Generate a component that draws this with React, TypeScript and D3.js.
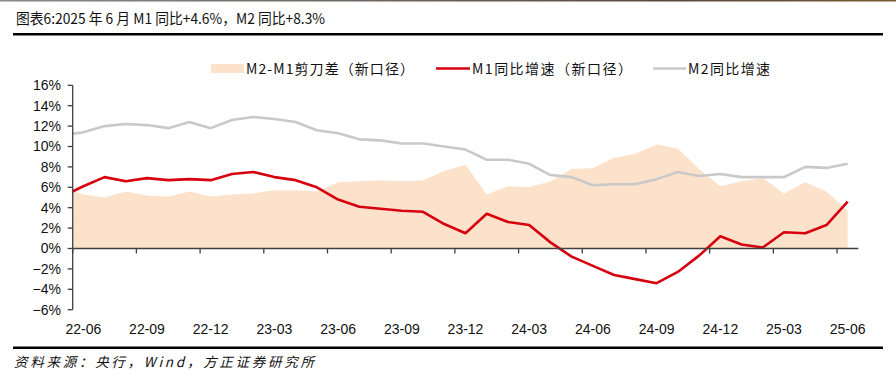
import React from "react";
import * as d3 from "d3";

// months from 22-05 (one before the axis start, clipped) to 25-06
const months: string[] = [
  "22-05","22-06","22-07","22-08","22-09","22-10","22-11","22-12",
  "23-01","23-02","23-03","23-04","23-05","23-06","23-07","23-08","23-09","23-10","23-11","23-12",
  "24-01","24-02","24-03","24-04","24-05","24-06","24-07","24-08","24-09","24-10","24-11","24-12",
  "25-01","25-02","25-03","25-04","25-05","25-06",
];

const m1: number[] = [
  5.1, 6.1, 7.0, 6.6, 6.9, 6.7, 6.8, 6.7,
  7.3, 7.5, 7.0, 6.7, 6.0, 4.8, 4.1, 3.9, 3.7, 3.6, 2.4, 1.5,
  3.4, 2.6, 2.3, 0.6, -0.8, -1.7, -2.6, -3.0, -3.4, -2.3, -0.7, 1.2,
  0.4, 0.1, 1.6, 1.5, 2.3, 4.6,
];

const m2: number[] = [
  11.1, 11.4, 12.0, 12.2, 12.1, 11.8, 12.4, 11.8,
  12.6, 12.9, 12.7, 12.4, 11.6, 11.3, 10.7, 10.6, 10.3, 10.3, 10.0, 9.7,
  8.7, 8.7, 8.3, 7.2, 7.0, 6.2, 6.3, 6.3, 6.8, 7.5, 7.1, 7.3,
  7.0, 7.0, 7.0, 8.0, 7.9, 8.3,
];

const gap: number[] = [
  6.0, 5.3, 5.0, 5.6, 5.2, 5.1, 5.6, 5.1,
  5.3, 5.4, 5.7, 5.7, 5.6, 6.5, 6.6, 6.7, 6.6, 6.7, 7.6, 8.2,
  5.3, 6.1, 6.0, 6.6, 7.8, 7.9, 8.9, 9.3, 10.2, 9.8, 7.8, 6.1,
  6.6, 6.9, 5.4, 6.5, 5.6, 3.7,
];

const xTickLabels: string[] = [
  "22-06","22-09","22-12","23-03","23-06","23-09","23-12",
  "24-03","24-06","24-09","24-12","25-03","25-06",
];
const yTicks: number[] = [-6, -4, -2, 0, 2, 4, 6, 8, 10, 12, 14, 16];

const titleText = "图表6:2025 年 6 月 M1 同比+4.6%，M2 同比+8.3%";
const sourceText = "资料来源：央行，Wind，方正证券研究所";
const legendLabels = ["M2-M1剪刀差（新口径）", "M1同比增速（新口径）", "M2同比增速"];

const AREA_COLOR = "#FCE2CB";
const RED = "#D7000F";
const GRAY = "#C9C9C9";
const AXIS = "#404040";

export default function App() {
  const W = 896, H = 378;
  const startIdx = months.indexOf("22-06");
  const endIdx = months.length - 1;
  const plotLeft = 72.7, plotRight = 858.3;
  // x in month-index units; band boundaries at idx +/- 0.5
  const x = d3.scaleLinear().domain([startIdx - 0.5, endIdx + 0.5]).range([plotLeft, plotRight]);
  const y = d3.scaleLinear().domain([-6, 16]).range([309.7, 85.3]);

  const idx = months.map((_, i) => i);
  const line = (vals: number[]) =>
    d3.line<number>().x((i) => x(i)).y((i) => y(vals[i]))(idx) || "";
  const area =
    d3.area<number>().x((i) => x(i)).y0(y(0)).y1((i) => y(gap[i]))(idx) || "";

  const fmt = (v: number) => `${v < 0 ? "\u2212" : ""}${Math.abs(v)}%`;
  const fontNum = "'Liberation Sans Narrow', 'Liberation Sans', Arial, sans-serif";
  const fontCJK = "'Noto Sans CJK SC', 'Noto Sans', sans-serif";

  return (
    <svg width={W} height={H} style={{ position: "absolute", left: 0, top: 0, background: "#fff" }}>
      <defs>
        <clipPath id="plotClip">
          <rect x={plotLeft} y={0} width={plotRight - plotLeft} height={H} />
        </clipPath>
        <linearGradient id="topStrip" x1="0" x2="1">
          <stop offset="0" stopColor="#8a8a8a" />
          <stop offset="0.75" stopColor="#5a4a40" />
          <stop offset="1" stopColor="#7a5a30" />
        </linearGradient>
      </defs>
      <rect x={0} y={0} width={W} height={1.5} fill="url(#topStrip)" />

      {/* title */}
      <text x={16} y={24} fontFamily={fontCJK} fontSize={14.5} fill="#111"
        textLength={309} lengthAdjust="spacingAndGlyphs">{titleText}</text>
      <rect x={13} y={33} width={870} height={2.5} fill="#000" />

      {/* legend */}
      <g fontFamily={fontCJK} fontSize={14} fill="#111">
        <rect x={211} y={64} width={33} height={9} fill={AREA_COLOR} />
        <text x={246} y={74} textLength={168} lengthAdjust="spacing">{legendLabels[0]}</text>
        <line x1={436} x2={470} y1={68.5} y2={68.5} stroke={RED} strokeWidth={2.5} />
        <text x={472} y={74} textLength={160} lengthAdjust="spacing">{legendLabels[1]}</text>
        <line x1={653} x2={686} y1={68.5} y2={68.5} stroke={GRAY} strokeWidth={2.5} />
        <text x={688} y={74} textLength={82} lengthAdjust="spacing">{legendLabels[2]}</text>
      </g>

      {/* data */}
      <g clipPath="url(#plotClip)">
        <path d={area} fill={AREA_COLOR} />
        <path d={line(m2)} fill="none" stroke={GRAY} strokeWidth={2.6} strokeLinejoin="round" />
        <path d={line(m1)} fill="none" stroke={RED} strokeWidth={2.6} strokeLinejoin="round" />
      </g>

      {/* y axis */}
      <line x1={plotLeft} x2={plotLeft} y1={y(16)} y2={y(-6)} stroke={AXIS} strokeWidth={1.3} />
      {yTicks.map((t) => (
        <g key={t}>
          <line x1={plotLeft - 5} x2={plotLeft} y1={y(t)} y2={y(t)} stroke={AXIS} strokeWidth={1.3} />
          <text x={61} y={y(t) + 4.8} textAnchor="end" fontFamily={fontNum} fontSize={14} fill="#111">
            {fmt(t)}
          </text>
        </g>
      ))}

      {/* x axis at zero */}
      <line x1={plotLeft} x2={plotRight} y1={y(0)} y2={y(0)} stroke={AXIS} strokeWidth={1.6} />
      {xTickLabels.map((lab) => {
        const i = months.indexOf(lab);
        return (
          <g key={lab}>
            <line x1={x(i - 0.5)} x2={x(i - 0.5)} y1={y(0)} y2={y(0) + 5} stroke={AXIS} strokeWidth={1.3} />
            <text x={x(i)} y={334} textAnchor="middle" fontFamily={fontNum} fontSize={14} fill="#111">
              {lab}
            </text>
          </g>
        );
      })}

      {/* bottom rule and source */}
      <rect x={13} y={346.5} width={870} height={2.5} fill="#000" />
      <text x={14} y={367} fontFamily={fontCJK} fontSize={13.5} fontStyle="italic" fill="#111"
        textLength={300} lengthAdjust="spacing">
        {sourceText}
      </text>
    </svg>
  );
}
